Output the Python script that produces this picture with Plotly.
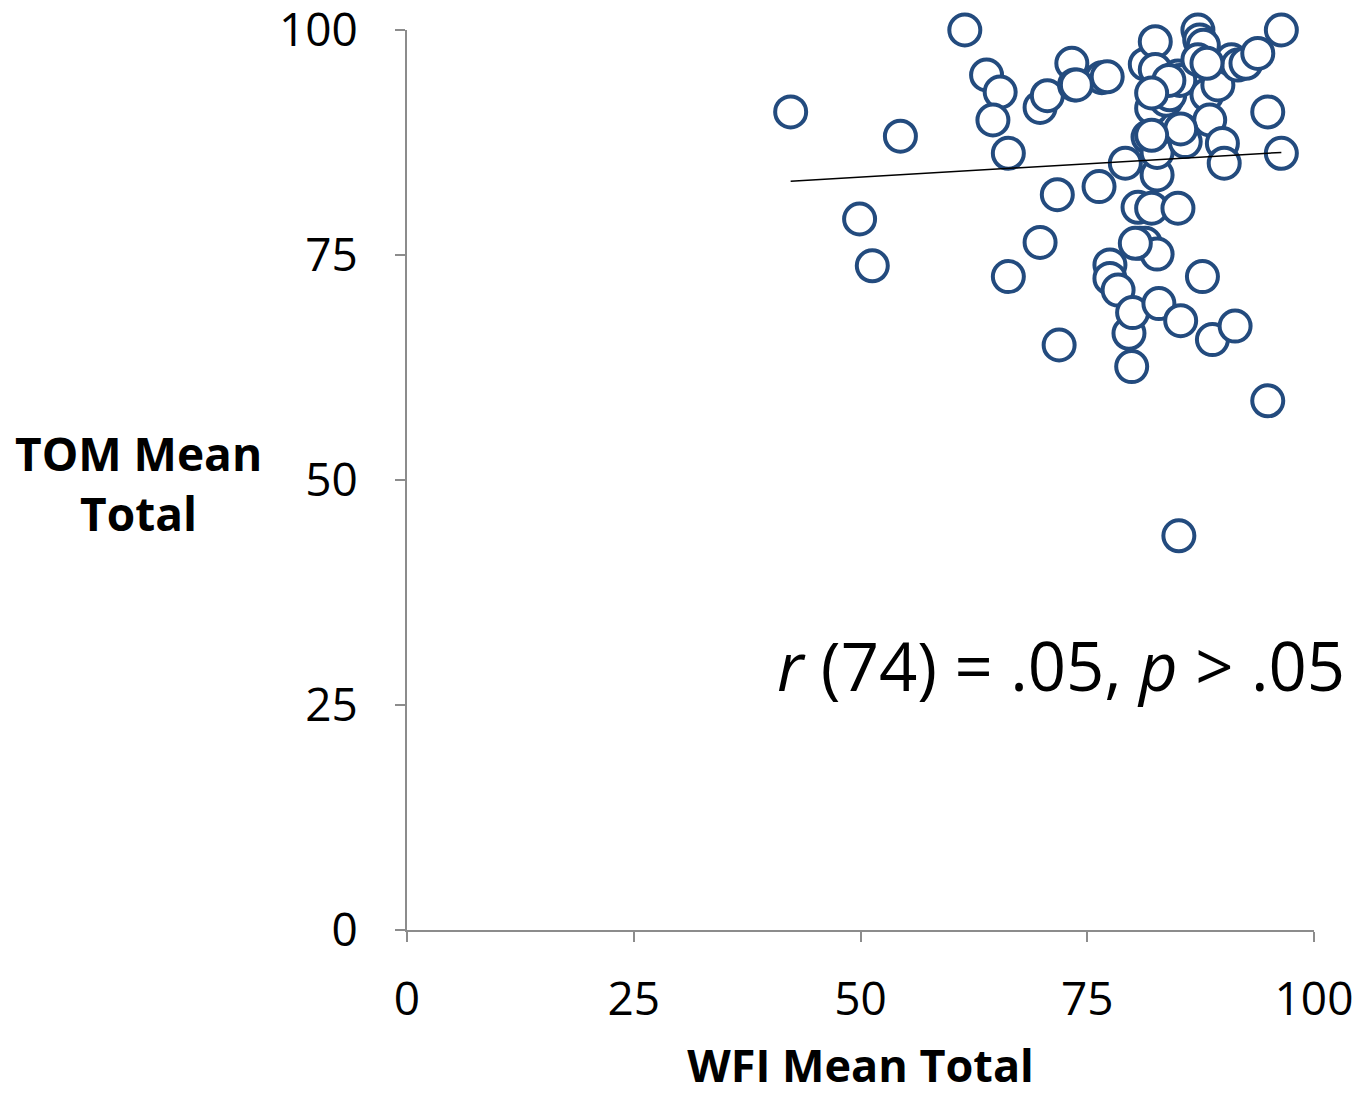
import plotly.graph_objects as go

# WFI Mean Total (x) and TOM Mean Total (y)
wfi = [42.3, 54.4, 49.9, 51.3, 61.5, 63.9, 65.4, 64.6, 66.3, 66.3,
       69.8, 70.6, 73.3, 73.6, 76.6, 77.2, 71.7, 69.8, 71.9, 76.3,
       79.2, 77.5, 77.5, 78.4, 79.6, 80.0, 79.9, 80.6, 80.8, 81.4,
       82.1, 82.7, 82.9, 85.0, 82.7, 81.4, 82.5, 82.5, 81.7, 82.1,
       82.7, 83.7, 84.1, 85.0, 85.2, 85.5, 85.8, 85.1, 85.3, 87.2,
       87.4, 87.8, 87.2, 88.2, 88.5, 89.4, 88.8, 87.7, 89.9, 90.1,
       90.9, 91.6, 92.5, 93.8, 91.3, 94.9, 94.9, 96.4, 96.4, 84.0,
       82.1, 88.2, 85.3, 82.1, 80.3, 73.8]
tom = [90.9, 88.2, 79.0, 73.8, 100.0, 95.0, 93.1, 90.0, 86.3, 72.6,
       91.4, 92.7, 96.3, 93.9, 94.7, 94.8, 81.7, 76.4, 65.0, 82.6,
       85.2, 73.9, 72.4, 71.1, 66.3, 68.6, 62.6, 80.3, 76.3, 76.3,
       80.2, 75.1, 69.6, 80.2, 83.9, 96.2, 98.7, 95.6, 88.1, 91.3,
       86.4, 92.2, 92.8, 94.9, 94.4, 88.9, 87.6, 43.8, 67.7, 100.0,
       98.9, 98.3, 96.7, 92.8, 90.0, 93.9, 65.6, 72.6, 87.4, 85.2,
       96.7, 96.1, 96.3, 97.4, 67.1, 90.9, 58.8, 100.0, 86.3, 94.4,
       93.0, 96.3, 89.0, 88.3, 76.3, 93.9]

trend_x = [42.3, 96.4]
trend_y = [83.2, 86.4]

x_ticks = [0, 25, 50, 75, 100]
y_ticks = [0, 25, 50, 75, 100]

FONT = "Open Sans"
BLUE = "#234B7E"
GRAY = "#8C8C8C"

fig = go.Figure()
fig.add_trace(go.Scatter(
    x=wfi, y=tom, mode="markers",
    marker=dict(size=31, color="white", line=dict(color=BLUE, width=4)),
    cliponaxis=False, showlegend=False, hoverinfo="skip",
))
fig.add_trace(go.Scatter(
    x=trend_x, y=trend_y, mode="lines",
    line=dict(color="black", width=1.5),
    cliponaxis=False, showlegend=False, hoverinfo="skip",
))

fig.update_layout(
    width=1360, height=1095,
    margin=dict(l=407, r=46, t=30, b=165),
    paper_bgcolor="white", plot_bgcolor="white",
    font=dict(family=FONT, color="black"),
    xaxis=dict(
        range=[0, 100], tickvals=x_ticks, showgrid=False, zeroline=False,
        showline=True, linecolor=GRAY, linewidth=2, automargin=False,
        ticks="outside", ticklen=10, tickwidth=2, tickcolor=GRAY,
        tickfont=dict(family=FONT, size=46, color="black"),
        ticklabelstandoff=18, ticklabeloverflow="allow",
        title=dict(text="<b>WFI Mean Total</b>", font=dict(family=FONT, size=45, color="black"), standoff=36),
    ),
    yaxis=dict(
        range=[0, 100], tickvals=y_ticks, showgrid=False, zeroline=False,
        showline=True, linecolor=GRAY, linewidth=2, automargin=False,
        ticks="outside", ticklen=10, tickwidth=2, tickcolor=GRAY,
        tickfont=dict(family=FONT, size=46, color="black"),
        ticklabelstandoff=28, ticklabeloverflow="allow",
    ),
    annotations=[
        dict(text="<b>TOM Mean<br>Total</b>", xref="paper", yref="paper",
             x=-0.296, y=0.497, xanchor="center", yanchor="middle", showarrow=False,
             font=dict(family=FONT, size=46, color="black"), align="center"),
        dict(text="<i>r</i> (74) = .05, <i>p</i> &gt; .05", xref="paper", yref="paper",
             x=1.036, y=0.295, xanchor="right", yanchor="middle", showarrow=False,
             font=dict(family=FONT, size=67, color="black")),
    ],
)

fig.write_html(
    "out.html",
    config={"displayModeBar": False},
    post_script="document.body.style.margin='0';document.body.style.overflow='hidden';",
)
